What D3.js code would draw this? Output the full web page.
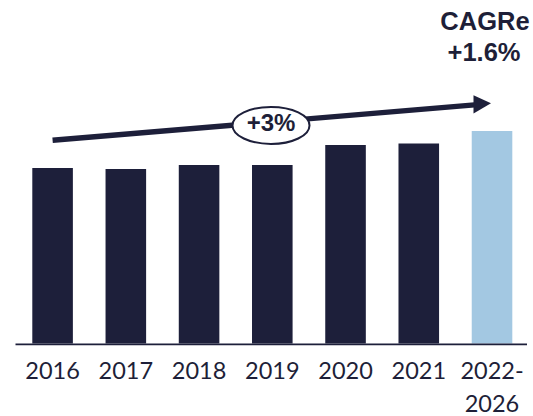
<!DOCTYPE html>
<html lang="en">
<head>
<meta charset="utf-8">
<title>CAGR bars</title>
<script src="https://cdn.jsdelivr.net/npm/d3@7"></script>
<style>
  body { margin: 0; background: #fff; }
  text { font-family: "Liberation Sans", Arial, sans-serif; fill: #1e1f38; }
  text.xl { font-family: Lato, "DejaVu Sans", sans-serif; }
</style>
</head>
<body>
<script>
// data
var years = ["2016", "2017", "2018", "2019", "2020", "2021", "2022-2026"];
var values = [175.5, 174.5, 178.5, 178.5, 198.5, 200, 212.5];
var forecast = [false, false, false, false, false, false, true];
var growthLabel = "+3%";
var cagrTitle = "CAGRe";
var cagrValue = "+1.6%";

var w = 533, h = 416;
var base = 343.5;
var navy = "#1d1f3a", blue = "#a3c8e2";

var svg = d3.select("body").append("svg")
  .attr("width", w).attr("height", h);

var x = d3.scaleBand()
  .domain(years)
  .range([32.3, 512.3])
  .paddingInner(0.446)
  .paddingOuter(0);

var y = d3.scaleLinear()
  .domain([0, d3.max(values)])
  .range([base, 131]);

// bars
svg.selectAll("rect.bar")
  .data(values)
  .enter().append("rect")
  .attr("class", "bar")
  .attr("x", function(d, i) { return x(years[i]); })
  .attr("y", function(d) { return y(d); })
  .attr("width", x.bandwidth())
  .attr("height", function(d) { return base - y(d); })
  .attr("fill", function(d, i) { return forecast[i] ? blue : navy; });

// baseline
svg.append("line")
  .attr("x1", 15.5).attr("x2", 527)
  .attr("y1", 344.3).attr("y2", 344.3)
  .attr("stroke", navy).attr("stroke-width", 1.8);

// x labels (wrapped at the dash)
svg.selectAll("text.xl")
  .data(years)
  .enter().append("text")
  .attr("class", "xl")
  .attr("text-anchor", "middle")
  .attr("font-size", "23.5px")
  .attr("y", 378.5)
  .each(function(d) {
    var parts = d.indexOf("-") > 0 ? [d.split("-")[0] + "-", d.split("-")[1]] : [d];
    var cx = x(d) + x.bandwidth() / 2;
    var t = d3.select(this);
    parts.forEach(function(p, k) {
      t.append("tspan")
        .attr("x", cx)
        .attr("dy", k === 0 ? 0 : 33)
        .text(p);
    });
  });

// growth arrow
var last = years.length - 1;
var ax0 = x(years[0]) + x.bandwidth() / 2;
var ay0 = y(values[0]) - 27.7;
var axTip = x(years[last]) + x.bandwidth() / 2 - 1;
var ayTip = y(values[last]) - 27.7;
var headLen = 17.5;
var ax1 = axTip - headLen;
var ay1 = ayTip + 1.6;

svg.append("line")
  .attr("x1", ax0).attr("y1", ay0)
  .attr("x2", ax1 + 1).attr("y2", ay1)
  .attr("stroke", navy).attr("stroke-width", 5.4);

svg.append("path")
  .attr("d", "M" + ax1 + "," + (ay1 - 9.6) + "L" + axTip + "," + ayTip + "L" + ax1 + "," + (ay1 + 8.6) + "Z")
  .attr("fill", navy);

// ellipse label
var ex = 271;
var ey = ay0 + (ex - ax0) / (ax1 - ax0) * (ay1 - ay0) + 3.5;
svg.append("ellipse")
  .attr("cx", ex).attr("cy", ey)
  .attr("rx", 38.5).attr("ry", 18.5)
  .attr("fill", "#fff")
  .attr("stroke", navy).attr("stroke-width", 2);

svg.append("text")
  .attr("x", ex).attr("y", ey + 6)
  .attr("text-anchor", "middle")
  .attr("font-size", "24px")
  .attr("font-weight", "bold")
  .text(growthLabel);

// CAGR header
svg.append("text")
  .attr("x", 485).attr("y", 29.5)
  .attr("text-anchor", "middle")
  .attr("font-size", "25.5px")
  .attr("font-weight", "bold")
  .text(cagrTitle);

svg.append("text")
  .attr("x", 484).attr("y", 61)
  .attr("text-anchor", "middle")
  .attr("font-size", "25.5px")
  .attr("font-weight", "bold")
  .text(cagrValue);
</script>
</body>
</html>
